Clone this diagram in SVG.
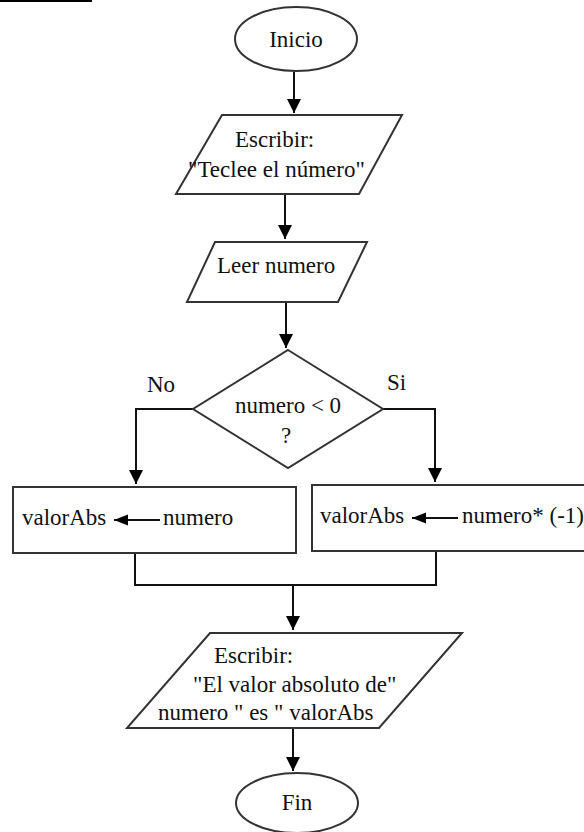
<svg xmlns="http://www.w3.org/2000/svg" width="584" height="832" viewBox="0 0 584 832">
<style>
.s{fill:#fff;stroke:#333;stroke-width:2}
.c{fill:none;stroke:#111;stroke-width:2}
text{font-family:'Liberation Serif','Times New Roman',Times,serif;font-size:23px;fill:#111}
.m{text-anchor:middle}
</style>
<defs>
<marker id="ah" markerUnits="userSpaceOnUse" markerWidth="14" markerHeight="16" viewBox="0 0 14 16" refX="14" refY="8" orient="auto">
<path d="M0,1 L14,8 L0,15 Z" fill="#000"/>
</marker>
<marker id="as" markerUnits="userSpaceOnUse" markerWidth="14" markerHeight="12" viewBox="0 0 14 12" refX="14" refY="6" orient="auto">
<path d="M0,0.5 L14,6 L0,11.5 Z" fill="#000"/>
</marker>
</defs>
<rect x="0" y="0" width="92" height="2" fill="#000"/>
<g id="connectors">
<path class="c" d="M294,72 V113" marker-end="url(#ah)"/>
<path class="c" d="M285,194 V239" marker-end="url(#ah)"/>
<path class="c" d="M286,302 V348" marker-end="url(#ah)"/>
<path class="c" d="M193,409 H136 V484" marker-end="url(#ah)"/>
<path class="c" d="M383,409 H435 V482" marker-end="url(#ah)"/>
<path class="c" d="M135,553 V585 H436 V551"/>
<path class="c" d="M293,585 V630" marker-end="url(#ah)"/>
<path class="c" d="M293,728 V771" marker-end="url(#ah)"/>
</g>
<g id="inicio">
<ellipse class="s" cx="296" cy="39" rx="61" ry="32"/>
<text class="m" x="296" y="47">Inicio</text>
</g>
<g id="escribir1">
<polygon class="s" points="222,115 402,115 359,194 176,194"/>
<text x="235" y="147">Escribir:</text>
<text x="188" y="177">"Teclee el número"</text>
</g>
<g id="leer">
<polygon class="s" points="215,242 367,242 338,302 187,302"/>
<text x="217" y="273">Leer numero</text>
</g>
<g id="decision">
<polygon class="s" points="288,350 383,409 288,468 193,409"/>
<text class="m" x="288" y="413">numero &lt; 0</text>
<text class="m" x="286" y="443">?</text>
<text x="147" y="392">No</text>
<text x="387" y="390">Si</text>
</g>
<g id="asignaNo">
<rect class="s" x="13" y="487" width="283" height="66"/>
<text x="22" y="525">valorAbs</text>
<path class="c" d="M160,520 H114" marker-end="url(#as)"/>
<text x="163" y="525">numero</text>
</g>
<g id="asignaSi">
<rect class="s" x="312" y="485" width="290" height="66"/>
<text x="320" y="523">valorAbs</text>
<path class="c" d="M458,518 H412" marker-end="url(#as)"/>
<text x="462" y="523">numero* (-1)</text>
</g>
<g id="escribir2">
<polygon class="s" points="210,633 462,633 379,728 127,728"/>
<text x="214" y="663">Escribir:</text>
<text x="193" y="692">"El valor absoluto de"</text>
<text x="158" y="720">numero " es " valorAbs</text>
</g>
<g id="fin">
<ellipse class="s" cx="297" cy="803" rx="61" ry="30"/>
<text class="m" x="297" y="810">Fin</text>
</g>
</svg>
